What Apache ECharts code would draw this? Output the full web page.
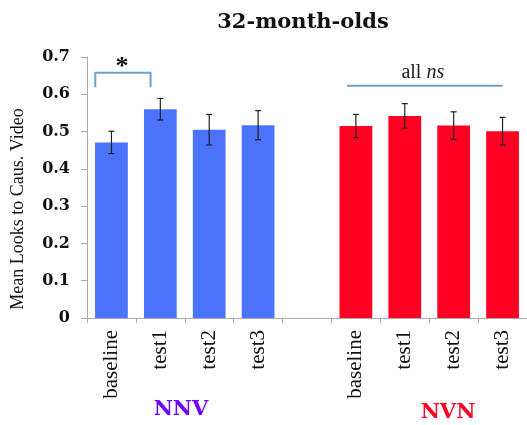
<!DOCTYPE html>
<html>
<head>
<meta charset="utf-8">
<script src="https://cdn.jsdelivr.net/npm/echarts@6/dist/echarts.min.js"></script>
<style>
  html, body { margin: 0; padding: 0; background: #fff; }
  #chart { width: 527px; height: 425px; }
</style>
</head>
<body>
<div id="chart"></div>
<script>
// data
const categories = ['baseline', 'test1', 'test2', 'test3', '', 'baseline', 'test1', 'test2', 'test3'];
const groupOf = ['NNV', 'NNV', 'NNV', 'NNV', null, 'NVN', 'NVN', 'NVN', 'NVN'];
const means = [0.471, 0.560, 0.505, 0.517, null, 0.515, 0.542, 0.516, 0.501];
const errors = [0.030, 0.029, 0.041, 0.039, null, 0.031, 0.033, 0.037, 0.037];
const yTicks = [0, 0.1, 0.2, 0.3, 0.4, 0.5, 0.6, 0.7];

const colors = { NNV: '#4b73fb', NVN: '#ff0022' };
const serif = '"Liberation Serif", "DejaVu Serif", serif';
const wideSerif = '"DejaVu Serif", serif';

const chart = echarts.init(document.getElementById('chart'));

const barData = means.map((v, i) => v === null ? '-' : {
  value: v,
  itemStyle: { color: colors[groupOf[i]] },
});

const errData = means.map((v, i) => v === null ? null : [i, v - errors[i], v + errors[i]])
  .filter(d => d);

// error bar whiskers
function renderErr(params, api) {
  const x = api.value(0);
  const lo = api.coord([x, api.value(1)]);
  const hi = api.coord([x, api.value(2)]);
  const cap = 3;
  const style = { stroke: '#222', lineWidth: 1.2 };
  return {
    type: 'group',
    children: [
      { type: 'line', shape: { x1: lo[0], y1: lo[1], x2: hi[0], y2: hi[1] }, style },
      { type: 'line', shape: { x1: lo[0] - cap, y1: lo[1], x2: lo[0] + cap, y2: lo[1] }, style },
      { type: 'line', shape: { x1: hi[0] - cap, y1: hi[1], x2: hi[0] + cap, y2: hi[1] }, style },
    ],
  };
}

// significance markers: [from cat, to cat, y value, kind, label]
const marks = [
  [-0.33, 0.8, 0.658, 'bracket', '*'],
  [4.82, 8.0, 0.623, 'line', 'all ns'],
];

// category coords snap to whole categories, so add the fraction by band width
function catX(api, c, v) {
  const base = Math.round(c);
  const p = api.coord([base, v]);
  const band = api.size([1, 0])[0];
  return [p[0] + (c - base) * band, p[1]];
}

function renderMark(params, api) {
  const m = marks[params.dataIndex];
  const a = catX(api, m[0], m[2]);
  const b = catX(api, m[1], m[2]);
  const stroke = '#6e9fcf';
  const children = [];
  if (m[3] === 'bracket') {
    const drop = api.size([0, 0.039])[1];
    children.push({
      type: 'polyline',
      shape: { points: [[a[0], a[1] + drop], [a[0], a[1]], [b[0], b[1]], [b[0], b[1] + drop]] },
      style: { stroke, lineWidth: 2, fill: null, lineJoin: 'round' },
    });
    children.push({
      type: 'text',
      x: (a[0] + b[0]) / 2 - 1, y: a[1] + 8,
      style: { text: m[4], fill: '#111', font: 'bold 26px ' + serif, align: 'center', verticalAlign: 'bottom' },
    });
  } else {
    children.push({
      type: 'line',
      shape: { x1: a[0], y1: a[1], x2: b[0], y2: b[1] },
      style: { stroke, lineWidth: 2 },
    });
    children.push({
      type: 'text',
      x: (a[0] + b[0]) / 2 - 2, y: a[1] - 3,
      style: {
        rich: {
          r: { font: '20px ' + serif, fill: '#222' },
          i: { font: 'italic 20px ' + serif, fill: '#222' },
        },
        text: '{r|all }{i|ns}', align: 'center', verticalAlign: 'bottom',
      },
    });
  }
  return { type: 'group', children };
}

const option = {
  animation: false,
  title: {
    text: '32-month-olds',
    left: 298, top: 7,
    textAlign: 'center',
    textStyle: { fontFamily: wideSerif, fontWeight: 'bold', fontSize: 21, color: '#111' },
  },
  grid: { left: 87, right: 0, top: 57, bottom: 107 },
  xAxis: {
    type: 'category',
    data: categories,
    axisLine: { lineStyle: { color: '#aaa' } },
    axisTick: { show: true, length: 5, lineStyle: { color: '#aaa' } },
    axisLabel: { rotate: 90, fontFamily: serif, fontSize: 21, color: '#111', margin: 12 },
  },
  yAxis: {
    type: 'value',
    min: yTicks[0], max: yTicks[yTicks.length - 1], interval: 0.1,
    axisLine: { show: true, lineStyle: { color: '#aaa' } },
    axisTick: { show: true, length: 6, lineStyle: { color: '#aaa' } },
    splitLine: { show: false },
    axisLabel: { fontFamily: wideSerif, fontSize: 16, fontWeight: 'bold', color: '#111', margin: 17,
      formatter: v => v === 0 ? '0' : v.toFixed(1) },
  },
  graphic: [
    { type: 'text', x: 18, y: 209, rotation: Math.PI / 2,
      style: { text: 'Mean Looks to Caus. Video', font: '18px ' + serif, fill: '#111', align: 'center', verticalAlign: 'middle' } },
    { type: 'text', x: 181, y: 410,
      style: { text: 'NNV', font: 'bold 21px ' + wideSerif, fill: '#7000ff', align: 'center', verticalAlign: 'middle' } },
    { type: 'text', x: 448, y: 413,
      style: { text: 'NVN', font: 'bold 21px ' + wideSerif, fill: '#ff0022', align: 'center', verticalAlign: 'middle' } },
  ],
  series: [
    { type: 'bar', data: barData, barWidth: '67%', silent: true },
    { type: 'custom', data: errData, renderItem: renderErr, z: 5, silent: true },
    { type: 'custom', data: marks.map(m => [m[0], m[1], m[2]]), renderItem: renderMark, z: 5, silent: true, clip: false },
  ],
};

chart.setOption(option);
</script>
</body>
</html>
